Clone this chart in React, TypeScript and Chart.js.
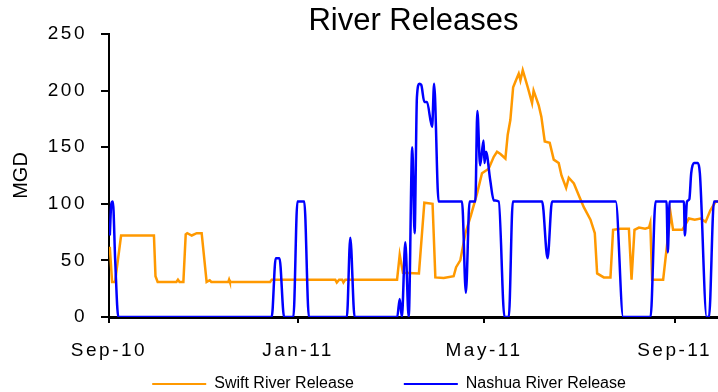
import React, { useEffect, useRef } from 'react';
import { Chart, registerables } from 'chart.js';

Chart.register(...registerables);

// ---- data (days counted from 1 Sep 2010) ----
const TICK_DAYS = [0, 122, 242, 365];
const TICK_LABELS = ['Sep-10', 'Jan-11', 'May-11', 'Sep-11'];
const X_MAX_DAY = 393;
const Y_MAX = 250;
const Y_STEP = 50;

const SERIES_NAMES = ['Swift River Release', 'Nashua River Release'];

const SWIFT_DAYS = [
  0.5, 2, 3.9, 7.8, 29, 30, 31.4, 43.5, 44.5, 45.5, 48, 49.5, 50.5, 53.4, 56.6, 59.8, 63, 65, 66, 77,
  77.5, 78, 104, 105, 146, 147, 148.5, 150.5, 151.3, 152.5, 185.9, 187.6, 189.7, 200, 203.5, 208.8,
  210.6, 216, 222.4, 224, 226.7, 230, 233.6, 237.5, 240.7, 245, 248.3, 250.4, 252.6, 255.8, 257.3, 259,
  260.8, 262.3, 264.4, 265.5, 267, 270.2, 273, 274, 277.3, 279, 281.2, 284.4, 287, 290.2, 292, 295,
  296.7, 300, 303.6, 306.4, 310.7, 313.5, 315, 319.3, 323.6, 325.3, 330, 335.5, 337.2, 339.1, 342, 346,
  348.5, 349.3, 350.5, 357.6, 362.4, 364, 370, 374.2, 378, 381.7, 385, 388, 391.5, 393,
];
const SWIFT_MGD = [
  62, 31, 31, 72, 72, 36, 31, 31, 33, 31, 31, 73, 74, 72, 74, 74, 31, 32.5, 31, 31,
  33, 31, 31, 33, 33, 30.5, 33, 33, 30.5, 33, 33, 55, 39, 38.5, 101, 100,
  35, 34.5, 36, 44, 50, 74, 90, 109, 127, 131, 141.5, 146, 144, 140, 161, 174,
  203, 208, 215, 209, 218, 203, 189, 200, 187, 177, 155, 154, 139, 136, 125, 114,
  123, 118, 106, 97, 86, 74, 38.5, 35, 35, 77, 78, 78, 33, 77, 79, 78,
  79, 83, 33, 33, 91.5, 77, 77, 87, 86, 87, 84, 94, 102, 102,
];

const NASHUA_DAYS = [
  0.5, 1.5, 2.5, 4, 6, 105, 107.6, 110, 113, 119, 121.6, 126, 129, 153.5, 155.7, 158.5, 186, 187.6,
  189, 191.2, 193.4, 195.7, 197.2, 198.7, 200.3, 201.5, 203.5, 205.2, 208.5, 209.8, 212.7, 227.8,
  230.3, 232.7, 236.4, 237.7, 239.5, 241.7, 242.3, 243.3, 246, 248.3, 251.5, 255.2, 258, 260.6,
  279.5, 283, 285.9, 327, 331.8, 349.5, 352.7, 359.8, 360.6, 361.8, 371, 371.6, 373, 374.5, 375.7,
  377.5, 380, 381.3, 385.7, 387.2, 390.4, 393,
];
const NASHUA_MGD = [
  72, 100, 102, 50, 0, 0, 52, 52, 0, 0, 102, 102, 0, 0, 70, 0, 0, 16,
  0, 66, 0, 150, 74, 194, 206, 205, 190, 190, 168, 206, 102, 102,
  21.5, 102, 102, 182, 134, 156, 136, 146, 121, 103, 102, 0, 0, 102,
  102, 52, 102, 102, 0, 0, 102, 102, 57, 102, 102, 72, 102, 104, 127,
  136, 136, 127, 0, 0, 102, 102,
];

const SWIFT_COLOR = '#FF9900';
const NASHUA_COLOR = '#0000FF';
const FONT = "'Liberation Sans', Arial, Helvetica, sans-serif";

// trailing blank space after each legend entry (reproduces the wide gaps of the reference legend)
const LEGEND_TRAIL = [9, 11];

const toPoints = (xs: number[], ys: number[]) => xs.map((x, i) => ({ x, y: ys[i] }));

// tick labels in the reference are drawn with wide letter spacing
const spacedBlack = (c: any) => {
  const ctx = c.chart.ctx as any;
  if ('letterSpacing' in ctx) ctx.letterSpacing = '2.5px';
  return '#000';
};

const spacingReset = {
  id: 'spacingReset',
  beforeDraw(chart: any) {
    if ('letterSpacing' in chart.ctx) chart.ctx.letterSpacing = '0px';
  },
  afterDraw(chart: any) {
    if ('letterSpacing' in chart.ctx) chart.ctx.letterSpacing = '0px';
  },
};

export default function App() {
  const canvasRef = useRef<HTMLCanvasElement>(null);

  useEffect(() => {
    const canvas = canvasRef.current;
    if (!canvas) return;
    const chart = new Chart(canvas, {
      type: 'line',
      data: {
        datasets: [
          {
            label: SERIES_NAMES[0],
            data: toPoints(SWIFT_DAYS, SWIFT_MGD),
            borderColor: SWIFT_COLOR,
            backgroundColor: SWIFT_COLOR,
            borderWidth: 2.5,
            pointRadius: 0,
            tension: 0,
            fill: false,
            order: 1,
          },
          {
            label: SERIES_NAMES[1],
            data: toPoints(NASHUA_DAYS, NASHUA_MGD),
            borderColor: NASHUA_COLOR,
            backgroundColor: NASHUA_COLOR,
            borderWidth: 2.5,
            pointRadius: 0,
            cubicInterpolationMode: 'monotone',
            fill: false,
            order: 0,
          },
        ],
      },
      plugins: [spacingReset],
      options: {
        responsive: false,
        animation: false,
        events: [],
        layout: { padding: { left: 0, right: 0, top: 0, bottom: -10 } },
        plugins: {
          title: {
            display: true,
            text: 'River Releases',
            fullSize: false,
            color: '#000',
            font: { family: FONT, size: 31, weight: 'normal', lineHeight: 1 },
            padding: { top: 6, bottom: -3 },
          },
          legend: {
            display: true,
            position: 'bottom',
            align: 'center',
            fullSize: false,
            labels: {
              color: '#000',
              font: { family: FONT, size: 16 },
              boxWidth: 54,
              boxHeight: 2,
              padding: 10,
              sort: (a: any, b: any) => a.datasetIndex - b.datasetIndex,
              generateLabels: (ch: any) =>
                (Chart.defaults as any).plugins.legend.labels
                  .generateLabels(ch)
                  .map((it: any) => ({
                    ...it,
                    lineWidth: 0,
                    fillStyle: it.strokeStyle,
                    text: it.text + ' '.repeat(LEGEND_TRAIL[it.datasetIndex] || 0),
                  })),
            },
          },
          tooltip: { enabled: false },
        },
        scales: {
          x: {
            type: 'linear',
            min: 0,
            max: X_MAX_DAY,
            afterBuildTicks: (s: any) => {
              s.ticks = TICK_DAYS.map((v) => ({ value: v }));
            },
            afterFit: (s: any) => {
              s.height = 49;
              s.paddingLeft = 0;
              s.paddingRight = 0;
            },
            grid: {
              display: true,
              drawOnChartArea: false,
              drawTicks: true,
              tickLength: 6,
              color: '#000',
              lineWidth: 2,
            },
            border: { display: true, color: '#000', width: 3 },
            ticks: {
              autoSkip: false,
              maxRotation: 0,
              minRotation: 0,
              padding: 16,
              color: spacedBlack,
              font: { family: FONT, size: 19 },
              callback: (v: any) => {
                const i = TICK_DAYS.indexOf(Number(v));
                return i >= 0 ? TICK_LABELS[i] : '';
              },
            },
          },
          y: {
            type: 'linear',
            min: 0,
            max: Y_MAX,
            afterFit: (s: any) => {
              s.width = 109;
            },
            title: {
              display: true,
              text: 'MGD',
              color: '#000',
              font: { family: FONT, size: 20 },
              padding: { top: 9, bottom: 0 },
            },
            grid: {
              display: true,
              drawOnChartArea: false,
              drawTicks: true,
              tickLength: 8,
              color: '#000',
              lineWidth: 2,
            },
            border: { display: true, color: '#000', width: 2 },
            ticks: {
              stepSize: Y_STEP,
              padding: 14,
              color: spacedBlack,
              font: { family: FONT, size: 19 },
            },
          },
        },
      } as any,
    });
    return () => chart.destroy();
  }, []);

  return (
    <div style={{ position: 'fixed', left: 0, top: 0, width: 718, height: 392, background: '#fff' }}>
      <canvas ref={canvasRef} width={718} height={392} style={{ display: 'block', width: 718, height: 392 }} />
    </div>
  );
}
